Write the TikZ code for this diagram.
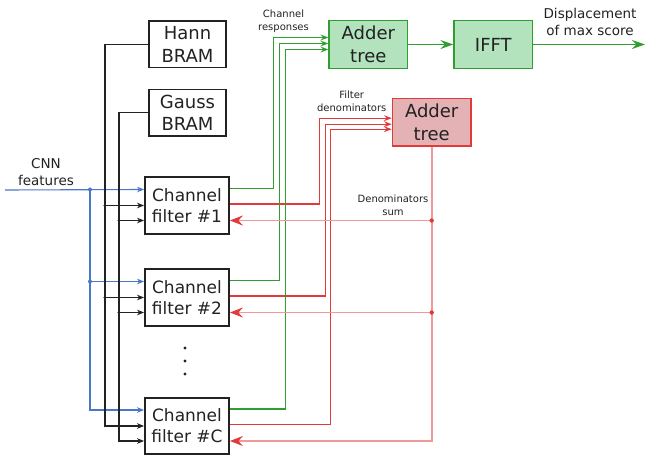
\documentclass[tikz,border=0pt]{standalone}
\usepackage{fontspec}
\setmainfont{DejaVu Sans}
\usetikzlibrary{arrows.meta}
\definecolor{inkgray}{HTML}{222222}
\definecolor{featblue}{HTML}{4A78C8}
\definecolor{grnline}{HTML}{2E9E2E}
\definecolor{grnfill}{HTML}{B2E3BD}
\definecolor{redline}{HTML}{E23A3A}
\definecolor{redlight}{HTML}{EE9A9A}
\definecolor{redfill}{HTML}{E4B1B4}
\tikzset{
  blk/.style={draw=inkgray, line width=1.8pt, minimum width=77pt, minimum height=46.5pt,
    align=center, inner sep=0pt, text=inkgray, font=\fontsize{18}{22.5}\selectfont},
  filt/.style={blk, minimum width=84pt, minimum height=56.5pt, font=\fontsize{17}{21}\selectfont},
  gblk/.style={blk, draw=grnline, fill=grnfill, line width=1.4pt, minimum width=78.5pt, minimum height=47.5pt},
  rblk/.style={blk, draw=redline, fill=redfill, line width=1.4pt, minimum width=78.5pt, minimum height=47.5pt},
  lbl/.style={align=center, text=inkgray, inner sep=0pt, font=\fontsize{10}{12.7}\selectfont},
  biglbl/.style={lbl, font=\fontsize{13.5}{17}\selectfont},
  bus/.style={draw=inkgray, line width=1.1pt, -{Stealth[length=7pt,width=5.5pt,inset=2pt]}},
  feat/.style={bus, draw=featblue},
  resp/.style={draw=grnline, line width=1.1pt, -{Stealth[length=8pt,width=6pt,inset=3pt]}},
  den/.style={draw=redline, line width=1.1pt, -{Stealth[length=8pt,width=6pt,inset=3pt]}},
  fb/.style={draw=redlight, line width=1.6pt, -{Stealth[length=13pt,width=10pt,inset=4.5pt,color=redline]}},
  sigout/.style={draw=grnline, line width=1.3pt, -{Stealth[length=13pt,width=9pt,inset=4.5pt]}}
}
\begin{document}
\begin{tikzpicture}[x=1pt,y=-1pt]
  \useasboundingbox (0,0) rectangle (645,457);
  % blocks
  \node[blk] (hann) at (187.5,44.3) {Hann\\BRAM};
  \node[blk] (gauss) at (187.5,112.7) {Gauss\\BRAM};
  \foreach \f/\y in {1/205.5,2/297.5,C/426}
    \node[filt] (fil\f) at (187,\y) {Channel\\filter \#\f};
  \node[gblk] (gadd) at (368.3,44.5) {Adder\\tree};
  \node[gblk] (ifft) at (493.3,44.5) {IFFT};
  \node[rblk] (radd) at (431.7,122.2) {Adder\\tree};
  % labels
  \node[lbl] (resplbl) at (283.5,21) {Channel\\responses};
  \node[lbl] (denlbl) at (351.7,101.5) {Filter\\denominators};
  \node[lbl] (sumlbl) at (393,205) {Denominators\\sum};
  \node[biglbl] (displbl) at (590,21.5) {Displacement\\of max score};
  \node[biglbl] (featlbl) at (46,172) {CNN\\features};
  % ports
  \coordinate (featin) at (5,190);
  \coordinate (dispout) at (645,44.5);
  \coordinate (bbus) at (90,0);
  \coordinate (hbus) at (105,0);
  \coordinate (gbus) at (119,0);
  \foreach \f in {1,2,C} {
    \coordinate (a\f) at ([yshift=16pt]fil\f.west);
    \coordinate (b\f) at (fil\f.west);
    \coordinate (c\f) at ([yshift=-15pt]fil\f.west);
    \coordinate (g\f) at ([yshift=17pt]fil\f.east);
    \coordinate (d\f) at ([yshift=1.5pt]fil\f.east);
    \coordinate (r\f) at ([yshift=-15pt]fil\f.east);
  }
  % inputs
  \draw[feat] (featin) -- (a1);
  \draw[feat] (a1 -| bbus) |- (aC);
  \draw[feat] (a2 -| bbus) -- (a2);
  \fill[featblue] (a1 -| bbus) circle[radius=2pt] (a2 -| bbus) circle[radius=2pt];
  \draw[bus] (hann.west) -| (hbus |- bC) -- (bC);
  \draw[bus] (gauss.west) -| (gbus |- cC) -- (cC);
  \foreach \f in {1,2} {
    \draw[bus] (b\f -| hbus) -- (b\f);
    \draw[bus] (c\f -| gbus) -- (c\f);
    \fill[inkgray] (b\f -| hbus) circle[radius=1.7pt] (c\f -| gbus) circle[radius=1.7pt];
  }
  % outputs
  \foreach \f/\gx/\gy/\rx/\ry in {1/55/7/72/4, 2/49/1/66/-2, C/43/-5/61/-7} {
    \draw[resp] (g\f) -| ([xshift=-\gx pt,yshift=\gy pt]gadd.west) -- ([yshift=\gy pt]gadd.west);
    \draw[den] (d\f) -| ([xshift=-\rx pt,yshift=\ry pt]radd.west) -- ([yshift=\ry pt]radd.west);
  }
  % denominators sum back
  \draw[fb] (radd.south) |- (rC);
  \foreach \f in {1,2} {
    \draw[fb] (r\f -| radd.south) -- (r\f);
    \fill[redline] (r\f -| radd.south) circle[radius=2.2pt];
  }
  \draw[sigout] (gadd) -- (ifft);
  \draw[sigout] (ifft) -- (dispout);
  % more filters
  \foreach \y in {348,361,374}
    \fill[inkgray] (185,\y) circle[radius=1.6pt];
\end{tikzpicture}
\end{document}
